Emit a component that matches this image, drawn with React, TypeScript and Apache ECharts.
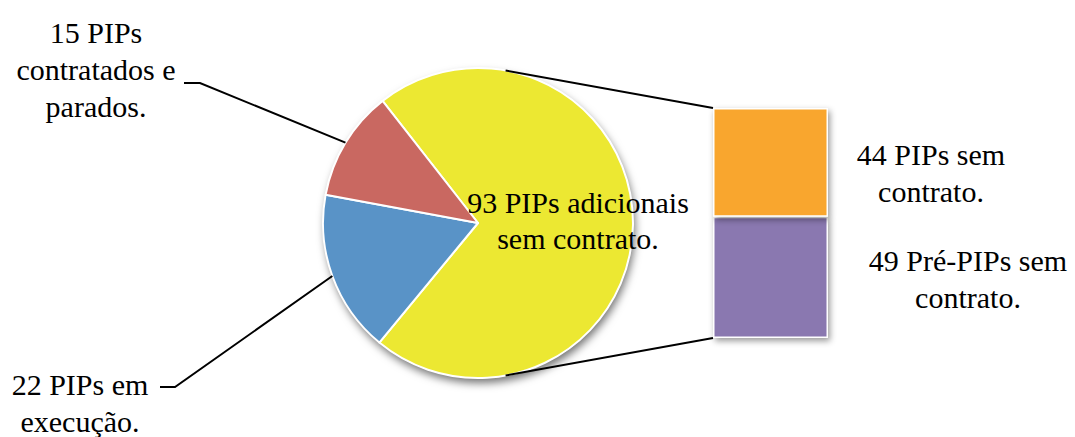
import React, { useEffect, useRef } from "react";
import * as echarts from "echarts";

// ---- data ----
const pieLabels = ["93 PIPs adicionais\nsem contrato.", "22 PIPs em\nexecução.", "15 PIPs\ncontratados e\nparados."];
const pieValues = [93, 22, 15];
const pieColors = ["#ECE832", "#5993C7", "#C96861"];

const barLabels = ["49 Pré-PIPs sem\ncontrato.", "44 PIPs sem\ncontrato."];
const barValues = [49, 44];
const barColors = ["#8A78B0", "#F9A62D"];
const barCategory = ["Outros"];

// ---- layout ----
const CX = 478;
const CY = 223;
const R = 155;
const START = 128;
const GRID = { left: 713, top: 108, width: 115, height: 230 };
const FONT = "30px Liberation Serif";

const pieLabelCenters = [
  { x: 578, y: 220, lh: 36 },
  { x: 80, y: 403, lh: 37 },
  { x: 96, y: 69, lh: 37 },
];
const guideEnds = [
  null,
  { elbowX: 175, endX: 160, y: 387 },
  { elbowX: 200, endX: 184, y: 83 },
];
const barLabelCenters = [
  { x: 968, y: 279, lh: 37 },
  { x: 931, y: 173, lh: 37 },
];

function midAngle(i: number) {
  const total = pieValues.reduce((a, b) => a + b, 0);
  let acc = 0;
  for (let k = 0; k < i; k++) acc += pieValues[k];
  const a0 = START - (acc / total) * 360;
  const a1 = START - ((acc + pieValues[i]) / total) * 360;
  return ((a0 + a1) / 2) * (Math.PI / 180);
}

function tangent(px: number, py: number, upper: boolean) {
  const dx = px - CX;
  const dy = CY - py;
  const d = Math.sqrt(dx * dx + dy * dy);
  const base = Math.atan2(dy, dx);
  const phi = Math.acos(R / d);
  const a = upper ? base + phi : base - phi;
  return [CX + R * Math.cos(a), CY - R * Math.sin(a)];
}

function lineTexts(text: string, c: { x: number; y: number; lh: number }) {
  const lines = text.split("\n");
  const n = lines.length;
  return lines.map((l, k) => ({
    type: "text",
    z: 20,
    x: c.x,
    y: c.y + (k - (n - 1) / 2) * c.lh,
    style: {
      text: l,
      font: FONT,
      fontFamily: "Liberation Serif",
      fontSize: 30,
      fill: "#000",
      align: "center",
      verticalAlign: "middle",
    },
  }));
}

export default function App() {
  const ref = useRef<HTMLDivElement>(null);
  useEffect(() => {
    if (!ref.current) return;
    const chart = echarts.init(ref.current, null, { renderer: "svg" });
    const topCorner = [GRID.left, GRID.top];
    const botCorner = [GRID.left, GRID.top + GRID.height];
    const tTop = tangent(topCorner[0], topCorner[1], true);
    const tBot = tangent(botCorner[0], botCorner[1], false);

    const els: any[] = [];
    pieLabels.forEach((t, i) => {
      els.push(...lineTexts(t, pieLabelCenters[i]));
      const g = guideEnds[i];
      if (g) {
        const a = midAngle(i);
        const p0 = [CX + R * Math.cos(a), CY - R * Math.sin(a)];
        els.push({
          type: "polyline",
          z: 20,
          shape: { points: [p0, [g.elbowX, g.y], [g.endX, g.y]] },
          style: { stroke: "#000", lineWidth: 2, fill: null },
        });
      }
    });
    barLabels.forEach((t, i) => {
      els.push(...lineTexts(t, barLabelCenters[i]));
    });

    chart.setOption({
      animation: false,
      textStyle: { fontFamily: "Liberation Serif" },
      grid: { ...GRID },
      xAxis: { type: "category", data: barCategory, show: false },
      yAxis: { type: "value", min: 0, max: barValues.reduce((a, b) => a + b, 0), show: false },
      graphic: [
        {
          type: "line",
          z: 10,
          shape: { x1: tTop[0], y1: tTop[1], x2: topCorner[0], y2: topCorner[1] },
          style: { stroke: "#000", lineWidth: 2 },
        },
        {
          type: "line",
          z: 10,
          shape: { x1: tBot[0], y1: tBot[1], x2: botCorner[0], y2: botCorner[1] },
          style: { stroke: "#000", lineWidth: 2 },
        },
        ...els,
      ],
      series: [
        {
          type: "pie",
          silent: true,
          z: 1,
          center: [CX, CY],
          radius: R,
          label: { show: false },
          labelLine: { show: false },
          data: [
            {
              value: 1,
              itemStyle: {
                color: "#fff",
                shadowBlur: 9,
                shadowColor: "rgba(0,0,0,0.55)",
                shadowOffsetX: 2,
                shadowOffsetY: 5,
              },
            },
          ],
        },
        {
          type: "pie",
          z: 3,
          center: [CX, CY],
          radius: R,
          startAngle: START,
          clockwise: true,
          itemStyle: { borderColor: "#fff", borderWidth: 2 },
          label: { show: false },
          labelLine: { show: false },
          data: pieValues.map((v, i) => ({
            value: v,
            name: pieLabels[i],
            itemStyle: { color: pieColors[i] },
          })),
        },
        ...barValues.map((v, i) => ({
          type: "bar",
          stack: "outros",
          barWidth: "100%",
          z: 3,
          name: barLabels[i],
          data: [v],
          itemStyle: {
            color: barColors[i],
            borderColor: "#fff",
            borderWidth: 1.5,
            shadowBlur: 6,
            shadowColor: "rgba(0,0,0,0.4)",
            shadowOffsetX: 2,
            shadowOffsetY: 3,
          },
          label: { show: false },
        })),
      ],
    });
    return () => chart.dispose();
  }, []);
  return (
    <div
      ref={ref}
      style={{ position: "fixed", left: 0, top: 0, width: 1075, height: 437, background: "#fff" }}
    />
  );
}
